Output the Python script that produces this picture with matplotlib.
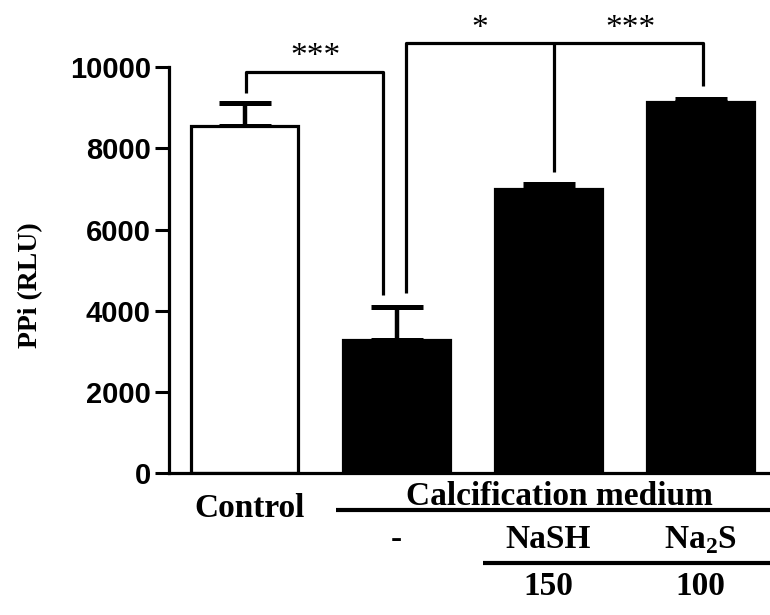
import numpy as np
import matplotlib
matplotlib.use('Agg')
import matplotlib.pyplot as plt
import matplotlib.transforms as mtransforms

plt.rcParams['mathtext.fontset'] = 'custom'
plt.rcParams['mathtext.rm'] = 'Liberation Serif:bold'
plt.rcParams['mathtext.bf'] = 'Liberation Serif:bold'

# data
labels = ['Control', '-', 'NaSH', r'Na$_{\mathbf{2}}$S']
doses = ['', '', '150', '100']
ppi = [8550, 3290, 7000, 9150]
ppi_err = [580, 800, 120, 70]
colors = ['white', 'black', 'black', 'black']
yticks = [0, 2000, 4000, 6000, 8000, 10000]

W, H = 770, 615
fig = plt.figure(figsize=(W / 100, H / 100), dpi=100)
ax = fig.add_axes([169 / W, 1 - 473 / H, 1 - 169 / W, (473 - 67.3) / H])

x = np.arange(len(ppi))
ax.bar(x, ppi, width=0.70, color=colors, edgecolor='black', linewidth=2.3, zorder=2)
ax.errorbar(x, ppi, yerr=[np.zeros(len(ppi)), ppi_err], fmt='none', ecolor='black',
            elinewidth=3.2, capsize=19, capthick=3.6, zorder=1)

ax.set_xlim(-0.497, 3.457)
ax.set_ylim(0, 10000)
ax.set_yticks(yticks)
ax.set_yticklabels([str(t) for t in yticks], fontsize=21, fontweight='bold',
                   family=['Liberation Sans', 'DejaVu Sans'])
ax.set_xticks([])
for s in ['top', 'right']:
    ax.spines[s].set_visible(False)
ax.spines['left'].set_linewidth(2.3)
ax.spines['bottom'].set_linewidth(2.3)
ax.tick_params(axis='y', length=10, width=2.2, pad=3)

fig.text(31 / W, 1 - 285 / H, 'PPi (RLU)', rotation=90, ha='center', va='center',
         fontsize=20, fontweight='bold', family=['Liberation Serif', 'DejaVu Serif'])

# significance brackets
lk = dict(color='black', lw=2.3, clip_on=False, solid_capstyle='butt')
ax.plot([0.01, 0.01, 0.911, 0.911], [9370, 9880, 9880, 4390], **lk)
ax.plot([1.06, 1.06, 3.016, 3.016], [4440, 10600, 10600, 9540], **lk)
ax.plot([2.036, 2.036], [10600, 7420], **lk)

sk = dict(ha='center', va='center', fontsize=24, family=['Liberation Serif', 'DejaVu Serif'])
ax.text(0.464, 10250, '***', **sk)
ax.text(1.55, 10950, '*', **sk)
ax.text(2.54, 10950, '***', **sk)

# group labels under the axis
tr = mtransforms.blended_transform_factory(ax.transData, fig.transFigure)
tk = dict(ha='center', va='baseline', fontsize=24, fontweight='bold', transform=tr,
          family=['Liberation Serif', 'DejaVu Serif'])
ax.text(0.03, 1 - 517 / H, labels[0], **tk)
ax.text(2.07, 1 - 505 / H, 'Calcification medium', **tk)
for i in range(1, 4):
    ax.text(x[i], 1 - 548 / H, labels[i], **tk)
    if doses[i]:
        ax.text(x[i], 1 - 595 / H, doses[i], **tk)

lk2 = dict(color='black', lw=3, transform=tr, clip_on=False, solid_capstyle='butt')
ax.plot([0.60, 3.6], [1 - 510 / H, 1 - 510 / H], **lk2)
ax.plot([1.57, 3.6], [1 - 563 / H, 1 - 563 / H], **lk2)

fig.savefig('out.png', dpi=100)
